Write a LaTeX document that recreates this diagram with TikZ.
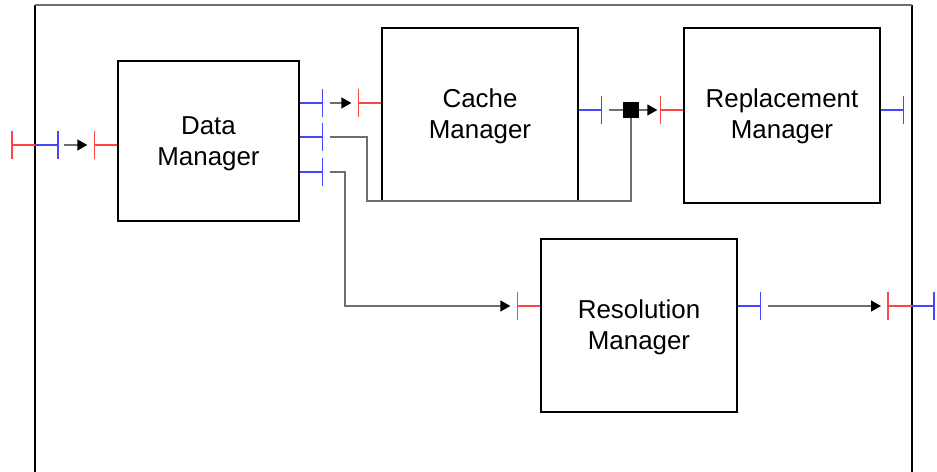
\documentclass[tikz,border=0pt]{standalone}
\usepackage{fontspec}
\setmainfont{Liberation Sans}
\usetikzlibrary{arrows.meta,calc}
\definecolor{pred}{RGB}{255,70,70}
\definecolor{pblue}{RGB}{70,70,255}
\definecolor{cgray}{RGB}{110,110,110}
\newcommand\myinport[2]{%
  \draw[redp] (#1) -- ++(-23,0) coordinate (#2);
  \draw[redp] ($(#2)+(0,-14)$) -- ($(#2)+(0,14)$);}
\newcommand\myoutport[2]{%
  \draw[bluep] (#1) -- ++(23,0) coordinate (#2);
  \draw[bluep] ($(#2)+(0,-14)$) -- ($(#2)+(0,14)$);}
\begin{document}
\begin{tikzpicture}[x=1bp,y=-1bp,
  box/.style={draw=black,line width=1.3bp,inner sep=0pt},
  lbl/.style={align=center,inner sep=0pt,font=\fontsize{26}{31}\selectfont},
  redp/.style={draw=pred,line width=1.4bp},
  bluep/.style={draw=pblue,line width=1.4bp},
  conn/.style={draw=cgray,line width=1.4bp},
  arr/.style={conn,-{Triangle[length=10bp,width=11bp,color=black]}}]
\useasboundingbox (0,0) rectangle (937,472);
% frame
\coordinate (fbl) at (35,475);
\coordinate (ftl) at (35,5);
\coordinate (ftr) at (912,5);
\coordinate (fbr) at (912,475);
\draw[line width=1.3bp] (fbl) -- (ftl);
\draw[line width=1.3bp] (ftr) -- (fbr);
\draw[line width=1.3bp,draw=cgray] (ftl) -- (ftr);
% boxes
\node[box,minimum width=181bp,minimum height=160bp] (dm) at (208.5,141) {};
\node[box,minimum width=196bp,minimum height=173bp] (cm) at (480,114.5) {};
\node[box,minimum width=196bp,minimum height=175bp] (rm) at (782,115.5) {};
\node[box,minimum width=196bp,minimum height=173bp] (sm) at (639,325.5) {};
\node[lbl] (dmt) at ([yshift=-3bp]dm.center) {Data\\Manager};
\node[lbl] (cmt) at ([yshift=-2bp]cm.center) {Cache\\Manager};
\node[lbl] (rmt) at ([yshift=-1bp]rm.center) {Replacement\\Manager};
\node[lbl] (smt) at ([yshift=-2bp]sm.center) {Resolution\\Manager};
% frame ports (left)
\coordinate (fin) at (35,145);
\draw[redp] (fin) -- ++(-23,0) coordinate (finr);
\draw[redp] ($(finr)+(0,-14)$) -- ($(finr)+(0,14)$);
\draw[bluep] (fin) -- ++(23,0) coordinate (finb);
\draw[bluep] ($(finb)+(0,-14)$) -- ($(finb)+(0,14)$);
% frame ports (right)
\coordinate (fout) at (912,306);
\draw[redp] (fout) -- ++(-24,0) coordinate (foutr);
\draw[redp] ($(foutr)+(0,-14)$) -- ($(foutr)+(0,14)$);
\draw[bluep] (fout) -- ++(22,0) coordinate (foutb);
\draw[bluep] ($(foutb)+(0,-14)$) -- ($(foutb)+(0,14)$);
% data manager ports
\myinport{$(dm.west)+(0,4)$}{dmi}
\myoutport{$(dm.east)+(0,-38)$}{dmo1}
\myoutport{$(dm.east)+(0,-4)$}{dmo2}
\myoutport{$(dm.east)+(0,31)$}{dmo3}
% cache manager ports
\myinport{$(cm.west)+(0,-11.5)$}{cmi}
\myoutport{$(cm.east)+(0,-4.5)$}{cmo}
% replacement manager ports
\myinport{$(rm.west)+(0,-5.5)$}{rmi}
\myoutport{$(rm.east)+(0,-5.5)$}{rmo}
% resolution manager ports
\myinport{$(sm.west)+(0,-19.5)$}{smi}
\myoutport{$(sm.east)+(0,-19.5)$}{smo}
% junction
\node[fill=black,minimum size=16bp,inner sep=0pt] (jn) at (631,110) {};
% connectors
\draw[arr] ($(finb)+(6,0)$) -- ($(dmi)+(-7,0)$);
\draw[arr] ($(dmo1)+(7,0)$) -- ($(cmi)+(-7,0)$);
\draw[conn] ($(cmo)+(7,0)$) -- (jn.west);
\draw[arr] (jn.east) -- ($(rmi)+(-3,0)$);
\draw[conn] ($(dmo2)+(7,0)$) -| (367,201) -| (jn.south);
\draw[arr] ($(dmo3)+(7,0)$) -| (345,306) -- ($(smi)+(-7,0)$);
\draw[arr] ($(smo)+(7,0)$) -- ($(foutr)+(-7,0)$);
\end{tikzpicture}
\end{document}
